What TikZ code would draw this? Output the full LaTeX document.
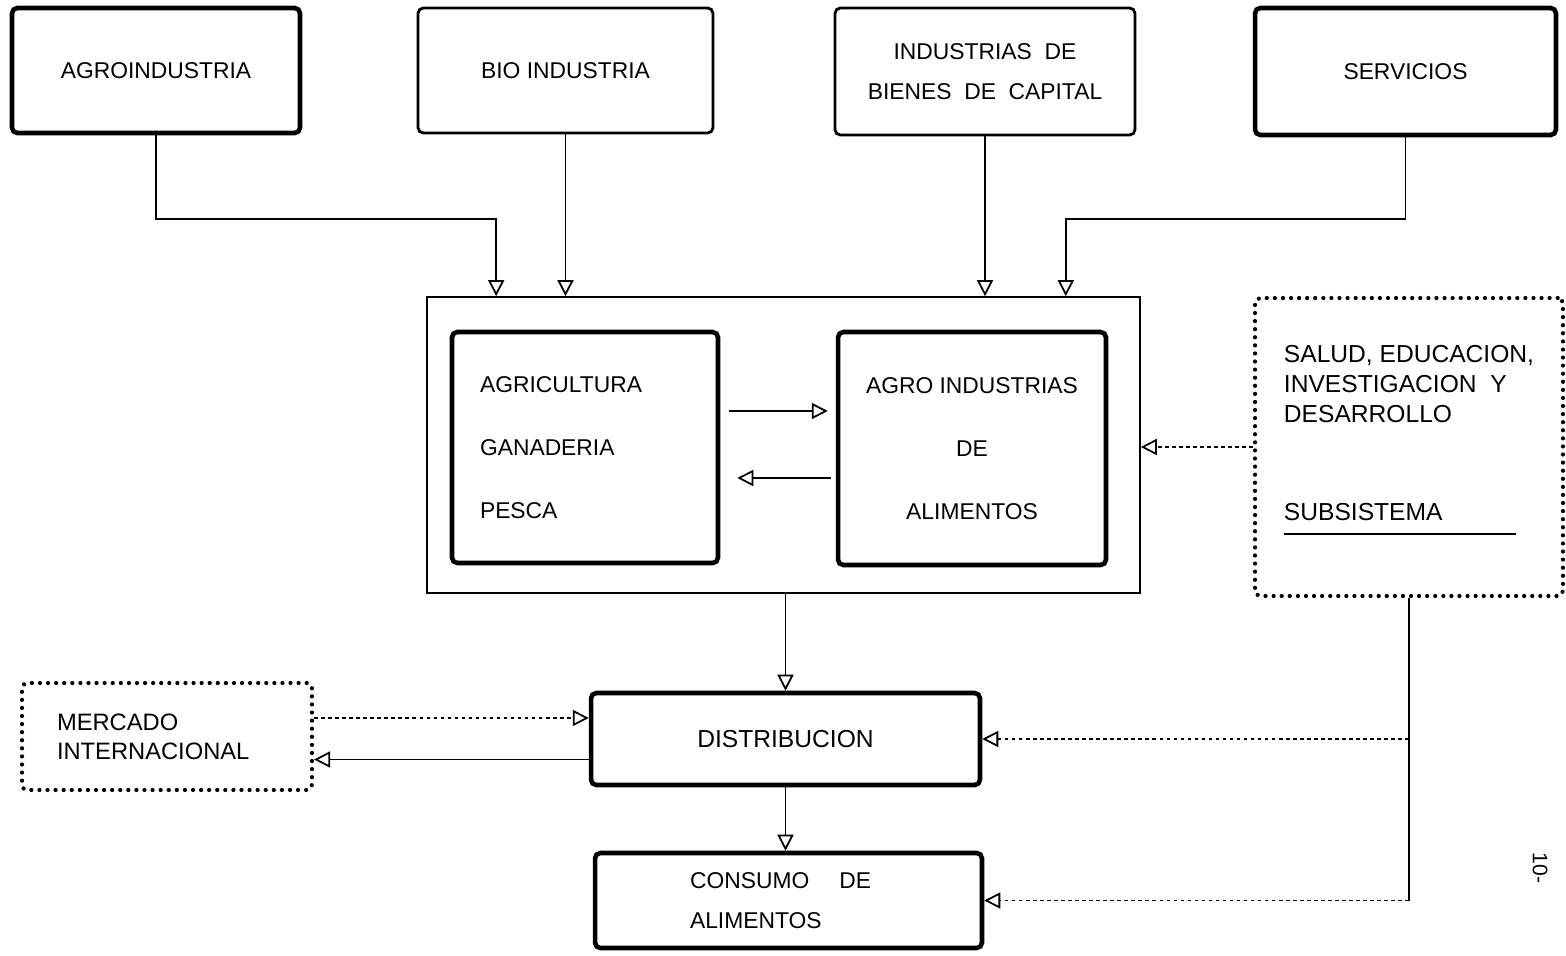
\documentclass[tikz,border=0pt]{standalone}
\usepackage{fontspec}
\setmainfont{Liberation Sans}
\usetikzlibrary{arrows.meta, positioning}

\begin{document}
\begin{tikzpicture}[
    x=0.02cm, y=-0.02cm,
    box/.style={rectangle, rounded corners=3pt, draw=black, line width=2.6pt, align=center, font=\fontsize{13}{16}\selectfont},
    thinbox/.style={box, line width=1.6pt},
    dotbox/.style={rectangle, rounded corners=3pt, draw=black, line width=2.4pt, dash pattern=on 0pt off 4.6pt, line cap=round, font=\fontsize{14}{17}\selectfont},
    outer/.style={rectangle, draw=black, line width=1pt},
    arrow/.style={-{Triangle[open, length=3.2mm, width=3.2mm]}, line width=1pt},
    dotarrow/.style={arrow, dash pattern=on 2pt off 2pt},
    link/.style={line width=1pt}
]
\useasboundingbox (0,0) rectangle (1566,956);

% fila superior
\node[box, minimum width=5.76cm, minimum height=2.5cm] (agro) at (156,70.5) {AGROINDUSTRIA};
\node[thinbox, minimum width=5.9cm, minimum height=2.5cm] (bio) at (565.5,70.5) {BIO INDUSTRIA};
\node[thinbox, minimum width=6cm, minimum height=2.54cm, font=\fontsize{13}{23}\selectfont] (bienes) at (985,71.5) {INDUSTRIAS~~DE\\BIENES~~DE~~CAPITAL};
\node[box, minimum width=6.02cm, minimum height=2.54cm] (servicios) at (1405.5,71.5) {SERVICIOS};

% sistema central
\node[outer, minimum width=14.26cm, minimum height=5.92cm] (sistema) at (783.5,445) {};
\node[box, minimum width=5.32cm, minimum height=4.62cm, text width=4.2cm, align=left, font=\fontsize{13}{36}\selectfont] (agricultura) at (585,447.5) {AGRICULTURA\\GANADERIA\\PESCA};
\node[box, minimum width=5.36cm, minimum height=4.66cm, font=\fontsize{13}{36}\selectfont] (alimentos) at (972,448.5) {AGRO INDUSTRIAS\\DE\\ALIMENTOS};
\node[dotbox, minimum width=6.16cm, minimum height=5.96cm, align=left] (salud) at (1409,447) {SALUD, EDUCACION,\\INVESTIGACION~~Y\\DESARROLLO\\[39pt]SUBSISTEMA\\[-9pt]\rule{4.64cm}{1pt}\\[-9pt]\mbox{}};

% fila inferior
\node[dotbox, minimum width=5.8cm, minimum height=2.14cm, text width=4.4cm, align=left, font=\fontsize{13.5}{16.5}\selectfont] (mercado) at (167,736.5) {MERCADO\\INTERNACIONAL};
\node[box, minimum width=7.78cm, minimum height=1.84cm, font=\fontsize{14}{16}\selectfont] (distribucion) at (785.5,739) {DISTRIBUCION};
\node[box, minimum width=7.74cm, minimum height=1.9cm, text width=3.94cm, align=left, font=\fontsize{13}{23}\selectfont] (consumo) at (788.5,900.5) {CONSUMO\hspace{0.6cm}DE\\ALIMENTOS};
\node[rotate=-90, font=\fontsize{12}{14}\selectfont] (pagina) at (1540,868) {10-};

\draw[arrow] (agro.south) -- ++(0,84) -| ([xshift=1.4cm]sistema.north west);
\draw[arrow] (bio.south) -- (bio.south |- sistema.north);
\draw[arrow] (bienes.south) -- (bienes.south |- sistema.north);
\draw[arrow] (servicios.south) -- ++(0,82) -| ([xshift=-1.5cm]sistema.north east);

\draw[arrow, shorten <=0.18cm, shorten >=0.16cm] ([yshift=0.73cm]agricultura.east) -- ([yshift=0.73cm]agricultura.east -| alimentos.west);
\draw[arrow, shorten <=0.1cm, shorten >=0.34cm] ([yshift=-0.59cm]alimentos.west) -- ([yshift=-0.59cm]alimentos.west -| agricultura.east);
\draw[dotarrow] (salud.west) -- (salud.west -| sistema.east);

\draw[arrow] (distribucion.north |- sistema.south) -- (distribucion.north);
\draw[arrow] (distribucion.south) -- (distribucion.south |- consumo.north);

\draw[link] (salud.south) -- (salud.south |- consumo.east);
\draw[dotarrow] (salud.south |- distribucion.east) -- (distribucion.east);
\draw[dotarrow] (salud.south |- consumo.east) -- (consumo.east);

\draw[dotarrow] ([yshift=0.37cm]mercado.east) -- ([yshift=0.37cm]mercado.east -| distribucion.west);
\draw[arrow] ([yshift=-0.41cm]distribucion.west) -- ([yshift=-0.41cm]distribucion.west -| mercado.east);

\end{tikzpicture}
\end{document}
